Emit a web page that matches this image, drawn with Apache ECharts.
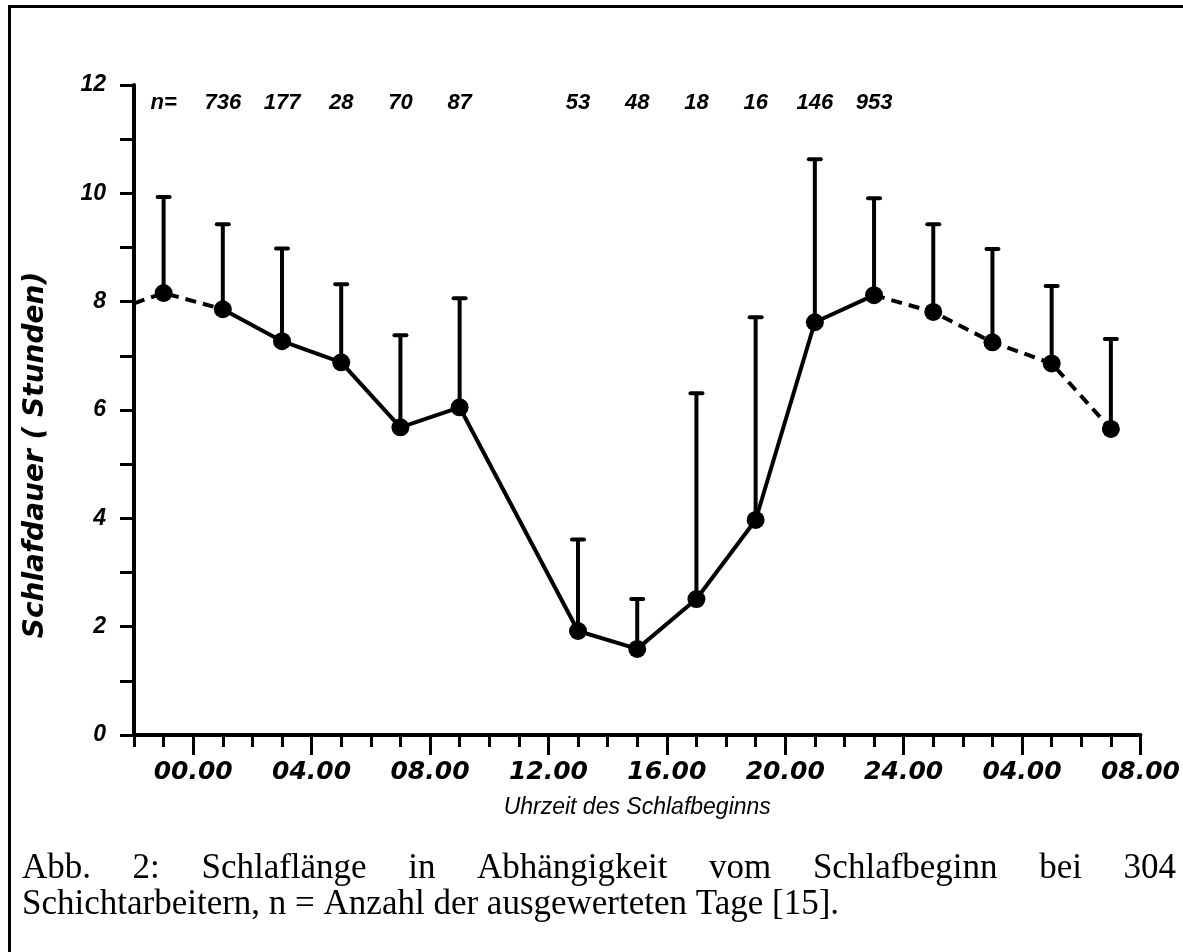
<!DOCTYPE html>
<html>
<head>
<meta charset="utf-8">
<script src="https://cdn.jsdelivr.net/npm/echarts@6/dist/echarts.min.js"></script>
<style>
html, body { margin: 0; padding: 0; background: #fff; }
#main { width: 1183px; height: 952px; }
</style>
</head>
<body>
<div id="main"></div>
<script>
// Uhrzeit des Schlafbeginns in Stunden (0 = 00.00 Uhr, >24 = naechster Tag)
const startHours = [-1, 1, 3, 5, 7, 9, 13, 15, 17, 19, 21, 23, 25, 27, 29, 31]
// mittlere Schlafdauer (Stunden)
const meanSleep = [8.16, 7.86, 7.27, 6.88, 5.68, 6.05, 1.92, 1.59, 2.51, 3.97, 7.62, 8.12, 7.81, 7.25, 6.86, 5.65]
// obere Grenze der Streuung
const upperSleep = [9.95, 9.45, 9.0, 8.34, 7.40, 8.08, 3.63, 2.53, 6.33, 7.73, 10.65, 9.93, 9.45, 8.99, 8.31, 7.33]
// Anzahl der ausgewerteten Tage
const nCounts = ['n=', '736', '177', '28', '70', '87', '53', '48', '18', '16', '146', '953', '', '', '', '']
// Anfang der gestrichelten Linie am linken Rand
const leadPoint = [-2, 7.97]

const xTickValues = [0, 4, 8, 12, 16, 20, 24, 28, 32]
const xTickLabels = ['00.00', '04.00', '08.00', '12.00', '16.00', '20.00', '24.00', '04.00', '08.00']

const caption1 = 'Abb. 2: Schlaflänge in Abhängigkeit vom Schlafbeginn bei 304'
const caption2 = 'Schichtarbeitern, n = Anzahl der ausgewerteten Tage [15].'

// kurze Striche jede Stunde
const hourTicks = []
for (let h = -2; h <= 32; h++) hourTicks.push(h)

const nLabelY = 11.66
const black = '#000'

const chart = echarts.init(document.getElementById('main'), null, { renderer: 'canvas' })

// erste Zeile der Bildunterschrift im Blocksatz
const captionFont = '35px "Liberation Serif", "DejaVu Serif", serif'
const ctx = document.createElement('canvas').getContext('2d')
ctx.font = captionFont
const words = caption1.split(' ')
const widths = words.map(w => ctx.measureText(w).width)
const lineLeft = 22
const lineRight = 1176
const gap = (lineRight - lineLeft - widths.reduce((a, b) => a + b, 0)) / (words.length - 1)
let cx = lineLeft
const captionWords = words.map((w, i) => {
    const el = {
        type: 'text',
        x: cx,
        y: 869,
        style: { text: w, font: captionFont, fill: black, align: 'left', verticalAlign: 'middle' }
    }
    cx += widths[i] + gap
    return el
})

const lineStyleBase = { color: black, width: 4 }

const option = {
    animation: false,
    backgroundColor: '#fff',
    grid: { left: 134, right: 38, top: 85, bottom: 217 },
    graphic: [
        // Rahmen
        {
            type: 'rect',
            shape: { x: 9.5, y: 6.5, width: 1300, height: 1000 },
            style: { fill: 'none', stroke: black, lineWidth: 3 }
        },
        {
            type: 'text',
            x: 36,
            y: 455,
            rotation: Math.PI / 2,
            style: {
                text: 'Schlafdauer ( Stunden)',
                font: 'italic bold 28px "DejaVu Sans", sans-serif',
                fill: black,
                align: 'center',
                verticalAlign: 'middle'
            }
        },
        ...captionWords,
        {
            type: 'text',
            x: lineLeft,
            y: 905,
            style: { text: caption2, font: captionFont, fill: black, align: 'left', verticalAlign: 'middle' }
        }
    ],
    xAxis: [
        {
            type: 'value',
            min: -2,
            max: 32,
            position: 'bottom',
            axisLine: { onZero: false, lineStyle: lineStyleBase },
            axisTick: { show: true, customValues: hourTicks, length: 12, lineStyle: { color: black, width: 3 } },
            axisLabel: { show: false },
            splitLine: { show: false },
            name: 'Uhrzeit des Schlafbeginns',
            nameLocation: 'middle',
            nameGap: 61,
            nameTextStyle: {
                color: black,
                fontFamily: '"Liberation Sans", sans-serif',
                fontStyle: 'italic',
                fontSize: 23
            }
        },
        {
            type: 'value',
            min: -2,
            max: 32,
            position: 'bottom',
            axisLine: { show: false, onZero: false },
            axisTick: { show: true, customValues: xTickValues, length: 20, lineStyle: { color: black, width: 3 } },
            axisLabel: {
                customValues: xTickValues,
                formatter: v => xTickLabels[xTickValues.indexOf(v)],
                color: black,
                fontFamily: '"DejaVu Sans", sans-serif',
                fontStyle: 'italic',
                fontWeight: 'bold',
                fontSize: 25,
                margin: 25
            },
            splitLine: { show: false }
        }
    ],
    yAxis: {
        type: 'value',
        min: 0,
        max: 12,
        interval: 1,
        axisLine: { show: true, onZero: false, lineStyle: lineStyleBase },
        axisTick: { show: true, length: 14, lineStyle: { color: black, width: 3 } },
        axisLabel: {
            formatter: v => (v % 2 === 0 ? String(v) : ''),
            color: black,
            fontFamily: '"Liberation Sans", sans-serif',
            fontStyle: 'italic',
            fontWeight: 'bold',
            fontSize: 23,
            margin: 28
        },
        splitLine: { show: false }
    },
    series: [
        {
            // gestrichelt am Anfang
            type: 'line',
            symbol: 'none',
            data: [leadPoint].concat(startHours.slice(0, 2).map((h, i) => [h, meanSleep[i]])),
            lineStyle: { color: black, width: 4, type: [11, 7] }
        },
        {
            type: 'line',
            symbol: 'none',
            data: startHours.slice(1, 12).map((h, i) => [h, meanSleep[i + 1]]),
            lineStyle: { color: black, width: 4 }
        },
        {
            // gestrichelt = Wiederholung
            type: 'line',
            symbol: 'none',
            data: startHours.slice(11).map((h, i) => [h, meanSleep[i + 11]]),
            lineStyle: { color: black, width: 4, type: [11, 7] }
        },
        {
            type: 'custom',
            renderItem: function (params, api) {
                const x = api.value(0)
                const bottom = api.coord([x, api.value(1)])
                const top = api.coord([x, api.value(2)])
                return {
                    type: 'group',
                    children: [
                        {
                            type: 'line',
                            shape: { x1: bottom[0], y1: bottom[1], x2: top[0], y2: top[1] },
                            style: { stroke: black, lineWidth: 4 }
                        },
                        {
                            type: 'line',
                            shape: { x1: top[0] - 6, y1: top[1] + 1, x2: top[0] + 6, y2: top[1] + 1 },
                            style: { stroke: black, lineWidth: 4, lineCap: 'round' }
                        }
                    ]
                }
            },
            encode: { x: 0, y: [1, 2] },
            data: startHours.map((h, i) => [h, meanSleep[i], upperSleep[i]]),
            z: 3
        },
        {
            type: 'scatter',
            symbolSize: 18,
            itemStyle: { color: black, opacity: 1 },
            data: startHours.map((h, i) => [h, meanSleep[i]]),
            z: 4
        },
        {
            type: 'scatter',
            symbolSize: 0,
            silent: true,
            itemStyle: { opacity: 1 },
            data: startHours.map((h, i) => [h, nLabelY, nCounts[i]]),
            label: {
                show: true,
                position: 'inside',
                formatter: p => p.value[2],
                color: black,
                opacity: 1,
                fontFamily: '"Liberation Sans", sans-serif',
                fontStyle: 'italic',
                fontWeight: 'bold',
                fontSize: 22
            }
        }
    ]
}

chart.setOption(option)
</script>
</body>
</html>
